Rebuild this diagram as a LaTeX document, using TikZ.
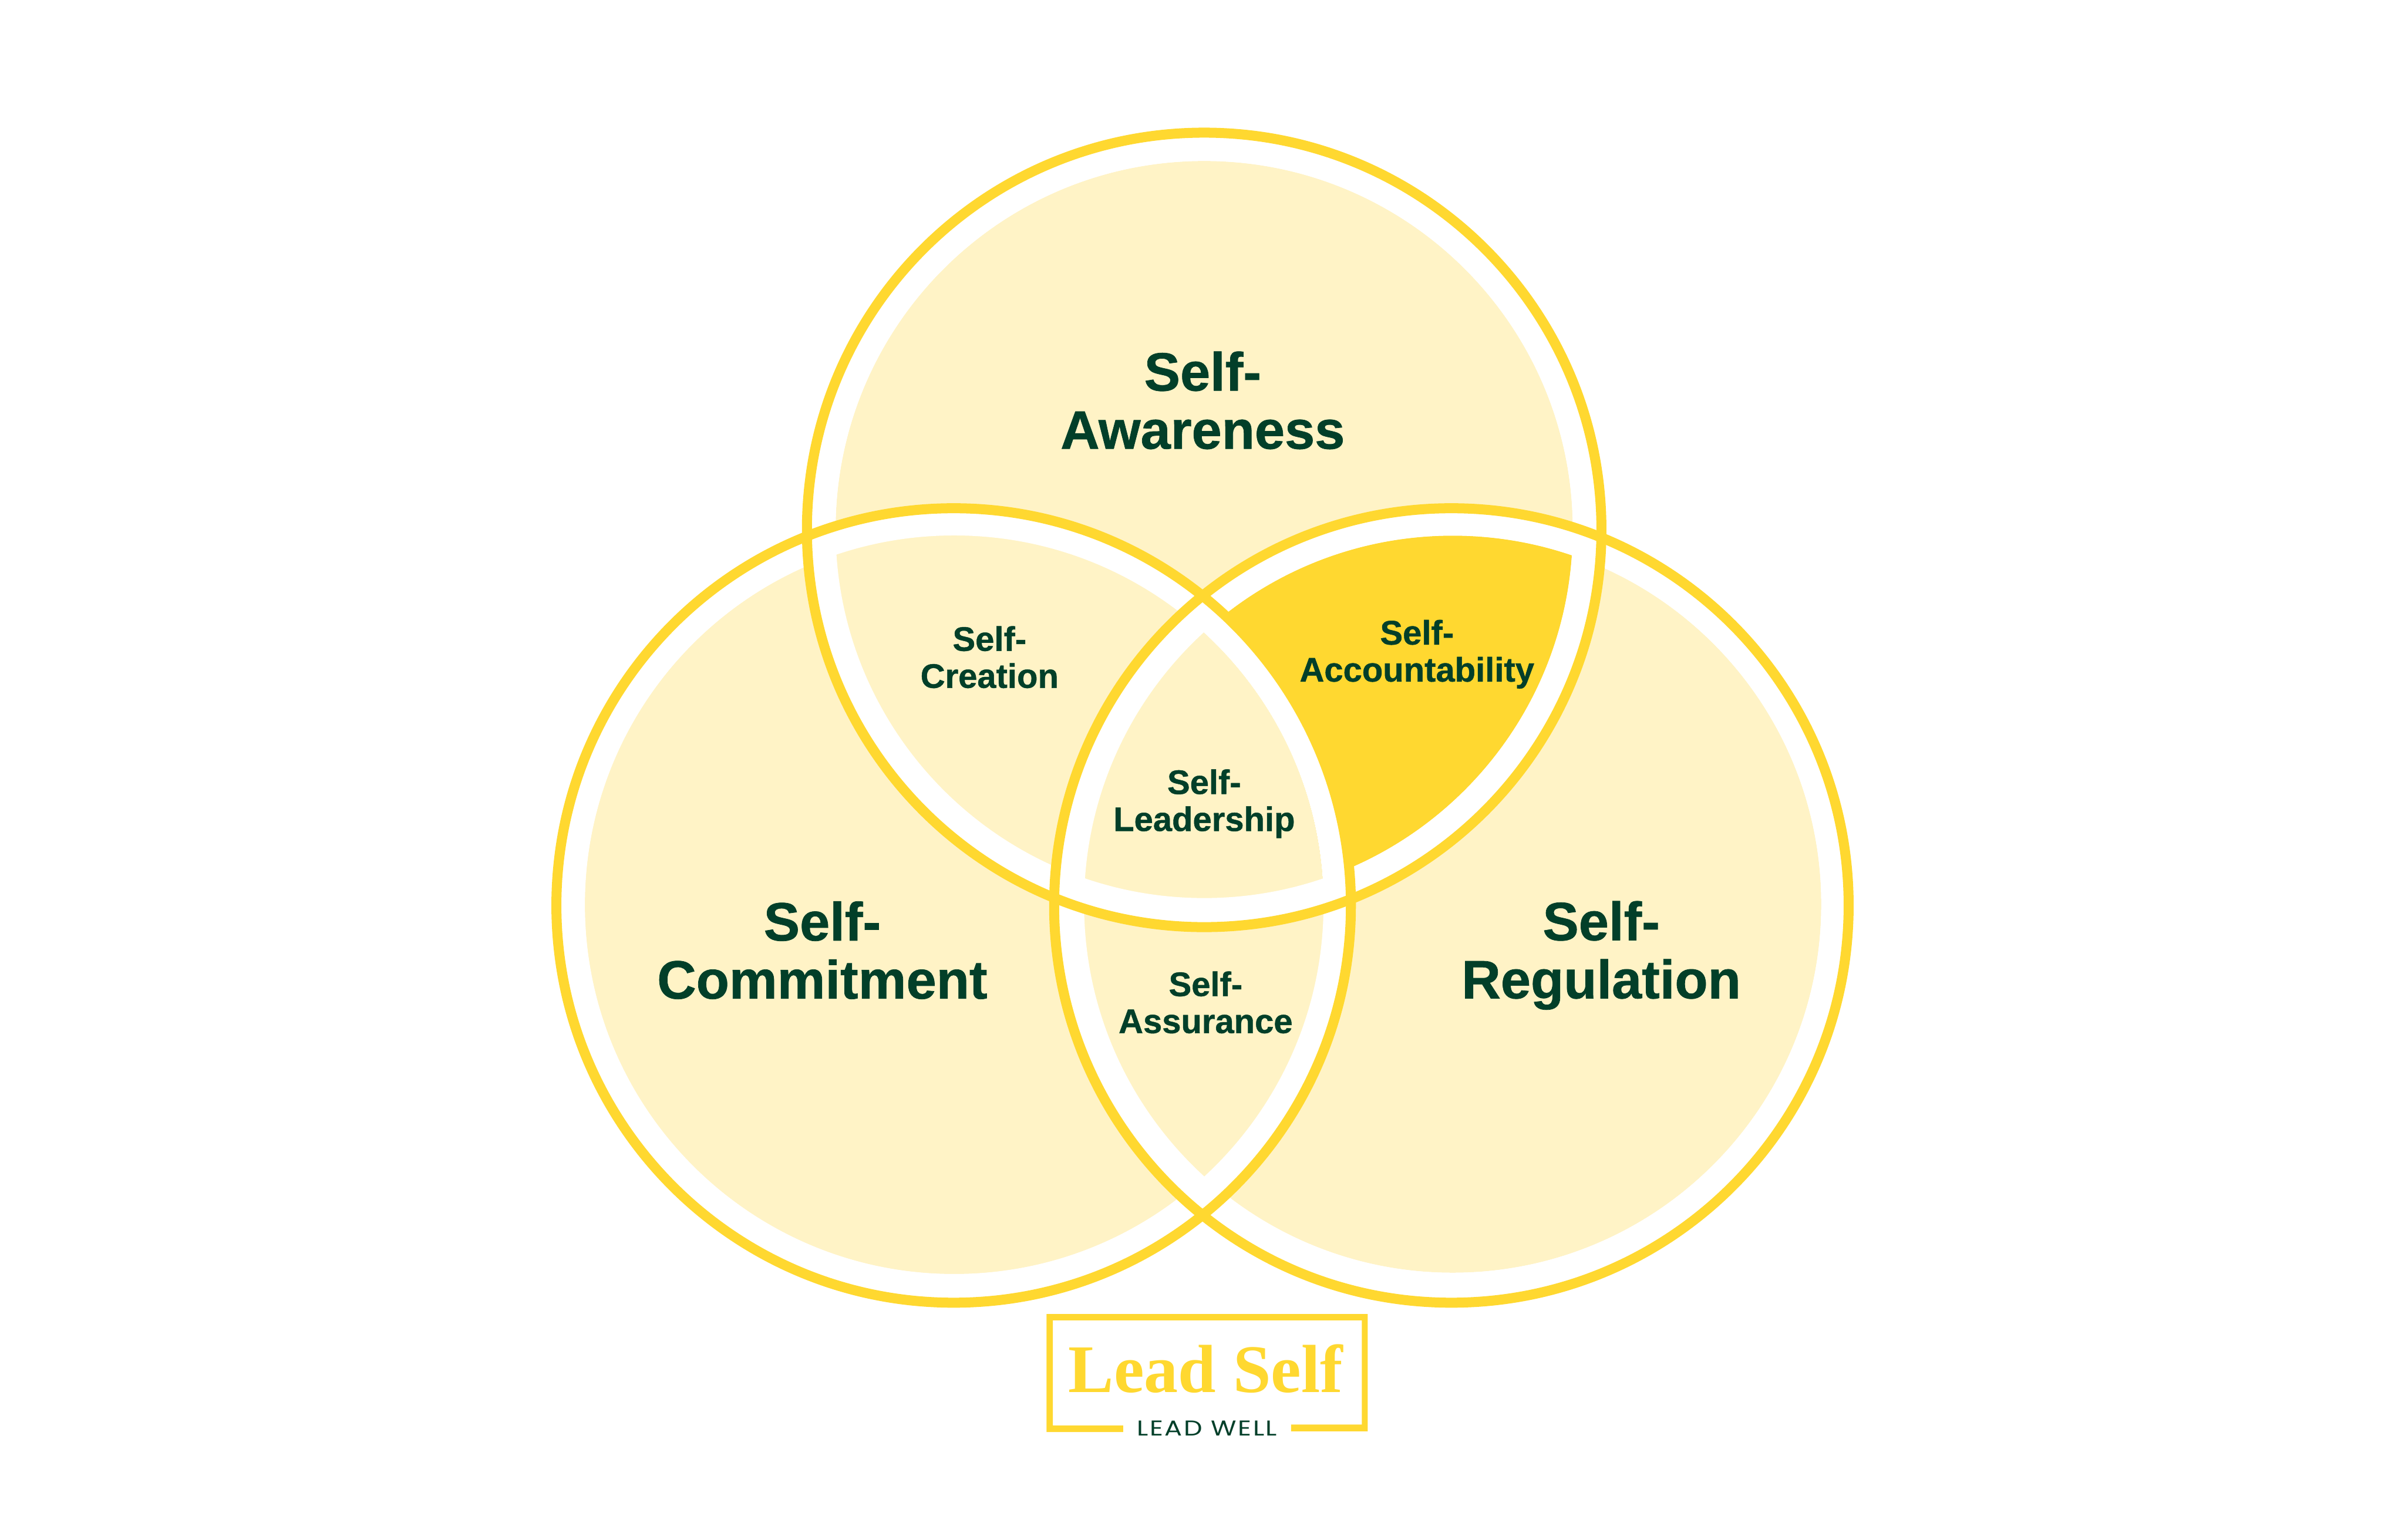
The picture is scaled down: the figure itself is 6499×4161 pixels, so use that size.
\documentclass[tikz,border=0pt]{standalone}
\usepackage{fontspec}
\setmainfont{Liberation Sans}[BoldFeatures={FakeBold=0.8}]
\newfontfamily\logoserif{Liberation Serif}
\newfontfamily\logosans[FakeStretch=1.22,LetterSpace=7]{Poppins}
\definecolor{ringyellow}{HTML}{FFD830}
\definecolor{softyellow}{HTML}{FFF3C6}
\definecolor{deepgreen}{HTML}{023F29}
\def\Rring{1073.5}
\def\Rmid{1075}
\tikzset{
  bigtext/.style={inner sep=0pt,align=center,text=deepgreen,font=\fontsize{14.6}{15.7}\selectfont\bfseries},
  smalltext/.style={inner sep=0pt,align=center,text=deepgreen,font=\fontsize{9.2}{10}\selectfont\bfseries},
  softdisc/.style={fill=softyellow},
  whiteband/.style={fill=white,even odd rule},
  ring/.style={draw=ringyellow,line width=2.7pt},
}
\begin{document}
\begin{tikzpicture}[x=0.1pt,y=-0.1pt]
\useasboundingbox (0,0) rectangle (6499,4161);
\fill[white] (0,0) rectangle (6499,4161);
% ring centres
\coordinate (T) at (3254,1432);
\coordinate (L) at (2577,2447);
\coordinate (R) at (3922,2447);
% fill centres
\coordinate (Tf) at (3254,1431);
\coordinate (Lf) at (2578.5,2445);
\coordinate (Rf) at (3925.5,2443.5);
% soft fills
\path[softdisc] (Tf) circle[radius=996];
\path[softdisc] (Lf) circle[radius=998];
\path[softdisc] (Rf) circle[radius=996];
% highlighted overlap of the top and right circles
\begin{scope}
  \clip (Tf) circle[radius=996];
  \clip (Rf) circle[radius=996];
  \fill[ringyellow] (0,0) rectangle (6499,4161);
\end{scope}
\path[softdisc] (Lf) circle[radius=998];
% white bands
\path[whiteband] (T) circle[radius=\Rmid] (Tf) circle[radius=996];
\path[whiteband] (L) circle[radius=\Rmid] (Lf) circle[radius=998];
\path[whiteband] (R) circle[radius=\Rmid] (Rf) circle[radius=996];
% rings
\foreach \c in {T,L,R} \path[ring] (\c) circle[radius=\Rring];
% labels
\node[bigtext] (aware) at (3250,1082) {Self-\\Awareness};
\node[bigtext] (commit) at (2222,2568) {Self-\\Commitment};
\node[bigtext] (regul) at (4327,2582) {Self-\\Regulation};
\node[smalltext] (creat) at (2674,1776) {Self-\\Creation};
\node[smalltext] (account) at (3829,1768) {Self-\\Accountability};
\node[smalltext] (leader) at (3254,2172) {Self-\\Leadership};
\node[smalltext] (assure) at (3258,2709) {Self-\\Assurance};
% logo
\fill[ringyellow] (2828,3551) -- (3696,3551) -- (3696,3868) -- (3489,3868) -- (3489,3850) -- (3680,3850) -- (3680,3568) -- (2845,3568) -- (2845,3852) -- (3035,3852) -- (3035,3870) -- (2828,3870) -- cycle;
\node[inner sep=0pt,anchor=base,text=ringyellow,font=\fontsize{18.4}{20}\selectfont\logoserif\bfseries] (logo) at (3258,3763) {Lead Self};
\node[inner sep=0pt,anchor=base,text=deepgreen,font=\fontsize{5.8}{6}\selectfont\logosans] (tag) at (3262,3880) {LEAD WELL};
\end{tikzpicture}
\end{document}
